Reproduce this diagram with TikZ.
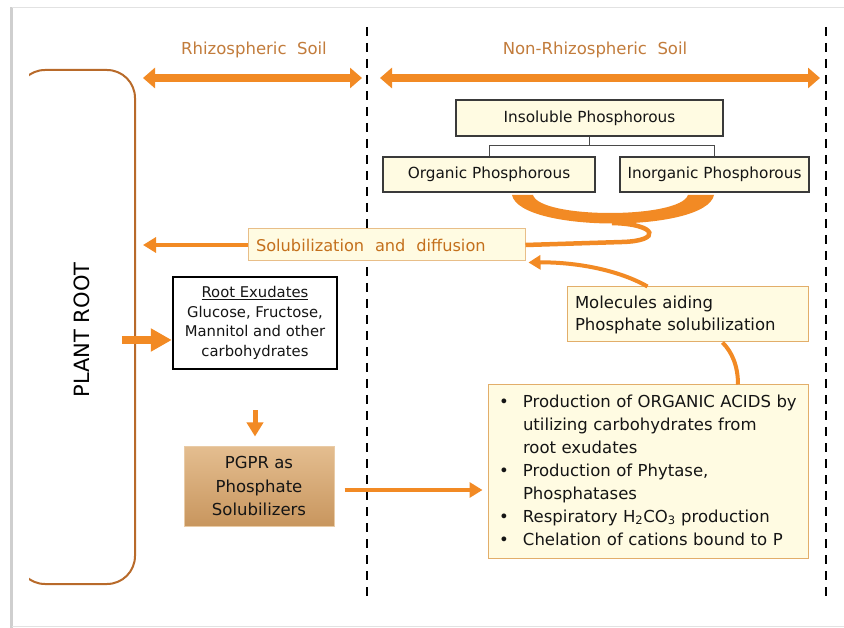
\documentclass[tikz,border=0pt]{standalone}
\usepackage{fontspec}
\setmainfont{DejaVu Sans}
\usetikzlibrary{arrows.meta}
\definecolor{orng}{HTML}{F28A24}
\definecolor{rootbrown}{HTML}{B86A2A}
\definecolor{soiltxt}{HTML}{C27C3C}
\definecolor{soltxt}{HTML}{C4701C}
\definecolor{cream}{HTML}{FFFBE2}
\definecolor{tanedge}{HTML}{E2AE6A}
\definecolor{pgprtop}{HTML}{E4BE90}
\definecolor{pgprbot}{HTML}{C8965E}
\definecolor{boxedge}{HTML}{3A3A3A}
\definecolor{txt}{HTML}{151515}
\definecolor{framegray}{HTML}{CFCFCF}
\definecolor{treegray}{HTML}{4A4A4A}
\tikzset{
  pbox/.style={draw=boxedge, fill=cream, line width=1.3pt, text=txt, inner sep=0pt,
    font=\fontsize{15.3}{19}\selectfont},
  obox/.style={draw=tanedge, fill=cream, line width=1pt, text=txt,
    font=\fontsize{16.5}{22}\selectfont},
  soil/.style={text=soiltxt, font=\fontsize{16.5}{20}\selectfont},
  dblarrow/.style={orng, line width=8pt, {Triangle[width=20pt,length=12pt]}-{Triangle[width=20pt,length=12pt]}},
  oarrow/.style={orng, line width=4.5pt, -{Triangle[width=15pt,length=13pt]}},
  sepline/.style={black, line width=2.4pt, dash pattern=on 9pt off 7pt},
}
\begin{document}
\begin{tikzpicture}[x=1pt,y=-1pt]
\useasboundingbox (0,0) rectangle (844,628);
\fill[white] (0,0) rectangle (844,628);
% frame
\draw[framegray, line width=2.5pt] (11.5,628) -- (11.5,7.5);
\draw[framegray!60, line width=1pt] (11.5,7.5) -- (844,7.5);
\draw[framegray!60, line width=1pt] (11.5,626.5) -- (844,626.5);

% separators
\coordinate (s1top) at (367,27); \coordinate (s1bot) at (367,598);
\coordinate (s2top) at (826,27); \coordinate (s2bot) at (826,598);
\draw[sepline] (s1top) -- (s1bot);
\draw[sepline] (s2top) -- (s2bot);

% soil labels and arrows
\node[soil] (rhiz) at (254,50) {Rhizospheric\ \ Soil};
\node[soil] (nonrhiz) at (595,50) {Non-Rhizospheric\ \ Soil};
\coordinate (a1l) at (143,78); \coordinate (a1r) at (362,78);
\coordinate (a2l) at (380,78); \coordinate (a2r) at (820,78);
\draw[dblarrow] (a1l) -- (a1r);
\draw[dblarrow] (a2l) -- (a2r);

% plant root outline
\begin{scope}
  \clip (29,0) rectangle (200,628);
  \draw[rootbrown, line width=2pt, rounded corners=28pt] (17,70) rectangle (135,584);
\end{scope}
\node[rotate=90, text=black, font=\fontsize{21}{24}\selectfont] (plant) at (82,330) {PLANT ROOT};

% phosphorus boxes
\node[pbox, minimum width=267pt, minimum height=36pt] (insol) at (589.5,118) {Insoluble Phosphorous};
\node[pbox, minimum width=212pt, minimum height=35pt] (org) at (489,174.5) {Organic Phosphorous};
\node[pbox, minimum width=189pt, minimum height=35pt] (inorg) at (714.5,174.5) {Inorganic Phosphorous};
\draw[treegray, line width=1pt] (insol.south) -- ++(0,9) -| (org.north);
\draw[treegray, line width=1pt] (insol.south) -- ++(0,9) -| (inorg.north);

% solubilization box
\node[obox, draw=tanedge!80, text=soltxt, minimum height=32pt, text width=261pt, inner xsep=8pt, inner ysep=0pt, align=left,
  font=\fontsize{16.2}{20}\selectfont] (sol) at (386.5,245) {Solubilization\ \ and\ \ diffusion};

% orange crescent from the phosphorus boxes
\fill[orng] (512,195) .. controls (520,233) and (706,233) .. (714,195)
  -- (688,195) .. controls (680,219) and (540,219) .. (533,195) -- cycle;
\draw[orng, line width=4.5pt] (612,223) .. controls (658,224) and (662,241) .. (622,242) -- (sol.east);

% arrow to plant root
\coordinate (rootsol) at (143,245);
\draw[oarrow] (sol.west) -- (rootsol);

% molecules box
\node[obox, minimum height=55pt, text width=225pt, inner xsep=8pt, inner ysep=0pt, align=left] (mol) at (687.5,314.5)
  {Molecules aiding\\Phosphate solubilization};
\draw[orng, line width=4pt, -{Triangle[width=14pt,length=12pt]}]
  ([xshift=-40pt]mol.north) .. controls (615,268) and (570,262) .. ([xshift=3pt,yshift=-1pt]sol.south east);

% bullet box
\node[obox, minimum height=173pt, text width=298pt, inner xsep=11pt, inner ysep=0pt, align=left,
  font=\fontsize{16.5}{23}\selectfont] (bul) at (648,471.5)
  {\begin{tabular}{@{}p{24pt}@{}l@{}}
   • & Production of ORGANIC ACIDS by\\
     & utilizing carbohydrates from\\
     & root exudates\\
   • & Production of Phytase,\\
     & Phosphatases\\
   • & Respiratory H\textsubscript{2}CO\textsubscript{3} production\\
   • & Chelation of cations bound to P
   \end{tabular}};
\draw[orng, line width=4pt] ([xshift=90pt]bul.north) .. controls (738,366) and (732,352) .. ([xshift=35pt]mol.south);

% root exudates
\node[draw=black, fill=white, line width=2.5pt, text=txt, minimum width=164pt, minimum height=92pt, inner sep=0pt,
  align=center, font=\fontsize{14.8}{19.5}\selectfont] (rex) at (255,323)
  {\underline{Root Exudates}\\Glucose, Fructose,\\Mannitol and other\\carbohydrates};
\draw[orng, line width=8pt, -{Triangle[width=22pt,length=21pt]}]
  ([xshift=-50pt,yshift=-17pt]rex.west) -- ([yshift=-17pt]rex.west);

% PGPR
\node[draw=pgprtop!80!white, line width=1pt, top color=pgprtop, bottom color=pgprbot, text=txt,
  minimum width=150pt, minimum height=80pt, inner sep=0pt, align=center,
  font=\fontsize{16.5}{23.5}\selectfont] (pgpr) at (259,486)
  {PGPR as\\Phosphate\\Solubilizers};
\draw[orng, line width=5pt, -{Triangle[width=16pt,length=14pt]}, shorten <=40pt, shorten >=9pt] (rex.south) -- (rex.south |- pgpr.north);
\draw[oarrow, line width=4pt, shorten <=10pt, shorten >=5pt] ([yshift=-4pt]pgpr.east) -- ([yshift=-4pt]pgpr.east -| bul.west);
\end{tikzpicture}
\end{document}
